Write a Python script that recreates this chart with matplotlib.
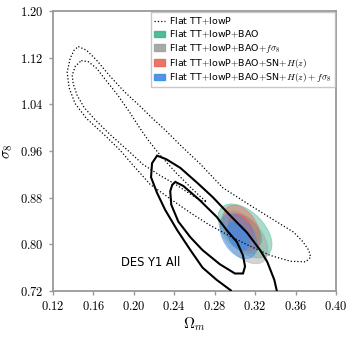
import numpy as np
import matplotlib
matplotlib.use("Agg")
import matplotlib.pyplot as plt
from matplotlib.patches import Ellipse
import matplotlib.transforms as transforms

plt.rcParams['mathtext.fontset'] = 'cm'
plt.rcParams['font.family'] = 'DejaVu Sans'

# Planck TT+lowP (dotted), 95% and 68% outlines
planck95_om = [0.145, 0.153, 0.163, 0.176, 0.191, 0.206, 0.219, 0.231, 0.246, 0.265, 0.288, 0.315,
               0.341, 0.358, 0.367, 0.373, 0.375, 0.370, 0.355, 0.335, 0.315, 0.295, 0.275, 0.256,
               0.236, 0.216, 0.199, 0.186, 0.170, 0.153, 0.142, 0.136, 0.134, 0.137, 0.141]
planck95_s8 = [1.139, 1.133, 1.116, 1.089, 1.061, 1.037, 1.015, 0.996, 0.970, 0.939, 0.897, 0.867,
               0.839, 0.821, 0.805, 0.790, 0.778, 0.770, 0.771, 0.781, 0.797, 0.814, 0.833, 0.854,
               0.878, 0.903, 0.936, 0.962, 0.989, 1.016, 1.041, 1.068, 1.095, 1.119, 1.133]
planck68_om = [0.148, 0.155, 0.163, 0.172, 0.184, 0.196, 0.206, 0.214, 0.226, 0.241, 0.256, 0.265,
               0.272, 0.266, 0.256, 0.241, 0.226, 0.209, 0.196, 0.176, 0.162, 0.151, 0.144, 0.140,
               0.139, 0.142]
planck68_s8 = [1.115, 1.113, 1.102, 1.082, 1.056, 1.026, 0.999, 0.979, 0.953, 0.924, 0.898, 0.883,
               0.873, 0.875, 0.886, 0.903, 0.918, 0.937, 0.958, 0.989, 1.013, 1.034, 1.055, 1.075,
               1.090, 1.105]

# DES Y1 All (solid black)
des95_om = [0.223, 0.232, 0.246, 0.263, 0.278, 0.295, 0.312, 0.325, 0.332, 0.339, 0.344, 0.349,
            0.301, 0.299, 0.296, 0.282, 0.268, 0.256, 0.243, 0.231, 0.223, 0.217, 0.218]
des95_s8 = [0.952, 0.946, 0.931, 0.905, 0.881, 0.850, 0.820, 0.790, 0.770, 0.739, 0.701, 0.662,
            0.662, 0.701, 0.721, 0.739, 0.760, 0.790, 0.824, 0.859, 0.888, 0.915, 0.939]
des68_om = [0.241, 0.249, 0.265, 0.282, 0.292, 0.302, 0.308, 0.310, 0.308, 0.300, 0.285, 0.268,
            0.256, 0.244, 0.237, 0.236, 0.238]
des68_s8 = [0.907, 0.900, 0.876, 0.847, 0.824, 0.804, 0.781, 0.762, 0.750, 0.750, 0.766, 0.790,
            0.812, 0.839, 0.868, 0.891, 0.902]

# filled combinations: mean, sigma and correlation estimated from the blobs
labels = ['Flat TT$+$lowP$+$BAO',
          'Flat TT$+$lowP$+$BAO$+f\\sigma_8$',
          'Flat TT$+$lowP$+$BAO$+$SN$+H(z)$',
          'Flat TT$+$lowP$+$BAO$+$SN$+H(z)+f\\sigma_8$']
mean_om = [0.310, 0.309, 0.3065, 0.3035]
mean_s8 = [0.823, 0.812, 0.828, 0.814]
sd_om = [0.0109, 0.0097, 0.0075, 0.0075]
sd_s8 = [0.0189, 0.0185, 0.0161, 0.0158]
rho = [-0.5, -0.5, -0.4, -0.4]
colors = ['#3fb58c', '#a0a0a0', '#e8675a', '#3d8be6']

xticks = [0.12, 0.16, 0.20, 0.24, 0.28, 0.32, 0.36, 0.40]
yticks = [0.72, 0.80, 0.88, 0.96, 1.04, 1.12, 1.20]


def add_ellipse(ax, mx, my, sx, sy, r, nstd, **kw):
    e = Ellipse((0, 0), width=2 * np.sqrt(1 + r), height=2 * np.sqrt(1 - r), **kw)
    t = (transforms.Affine2D().rotate_deg(45).scale(sx * nstd, sy * nstd)
         .translate(mx, my))
    e.set_transform(t + ax.transData)
    ax.add_patch(e)
    return e


fig = plt.figure(figsize=(3.54, 3.39), dpi=100)
ax = fig.add_axes([0.1497, 0.1416, 0.7994, 0.826])

handles = []
for i in range(4):
    add_ellipse(ax, mean_om[i], mean_s8[i], sd_om[i], sd_s8[i], rho[i], 2.45,
                facecolor=colors[i], edgecolor=colors[i], alpha=0.45, lw=0.6, zorder=2 + i)
    add_ellipse(ax, mean_om[i], mean_s8[i], sd_om[i], sd_s8[i], rho[i], 1.52,
                facecolor=colors[i], edgecolor=colors[i], alpha=0.7, lw=0.6, zorder=2 + i)
    handles.append(plt.Rectangle((0, 0), 1, 1, facecolor=colors[i], edgecolor=colors[i],
                                 alpha=0.9, label=labels[i]))

ax.fill(planck95_om, planck95_s8, fill=False, ls=':', lw=0.9, color='k', zorder=10)
ax.fill(planck68_om, planck68_s8, fill=False, ls=':', lw=0.9, color='k', zorder=10)
ax.fill(des95_om, des95_s8, fill=False, lw=1.5, color='k', zorder=11)
ax.fill(des68_om, des68_s8, fill=False, lw=1.5, color='k', zorder=11)

line, = ax.plot([], [], ls=':', lw=0.9, color='k', label='Flat TT$+$lowP')

ax.text(0.187, 0.768, 'DES Y1 All', fontsize=8.3, va='center', ha='left')

ax.set_xlim(0.12, 0.40)
ax.set_ylim(0.72, 1.20)
ax.set_xticks(xticks)
ax.set_yticks(yticks)
ax.set_xticklabels(['$%.2f$' % v for v in xticks], fontsize=9)
ax.set_yticklabels(['$%.2f$' % v for v in yticks], fontsize=9)
ax.set_xlabel('$\\Omega_m$', fontsize=11, labelpad=2)
ax.set_ylabel('$\\sigma_8$', fontsize=11)
for s in ax.spines.values():
    s.set_color('#999999')
    s.set_linewidth(1.3)
ax.tick_params(color='#999999', length=3, width=1)

leg = ax.legend(handles=[line] + handles, loc='upper right', fontsize=6.8, frameon=True,
                fancybox=False, handlelength=1.2, handletextpad=0.45, borderaxespad=0.15,
                labelspacing=0.2, borderpad=0.3)
leg.get_frame().set_edgecolor('#bbbbbb')

fig.savefig('out.png', dpi=100)
